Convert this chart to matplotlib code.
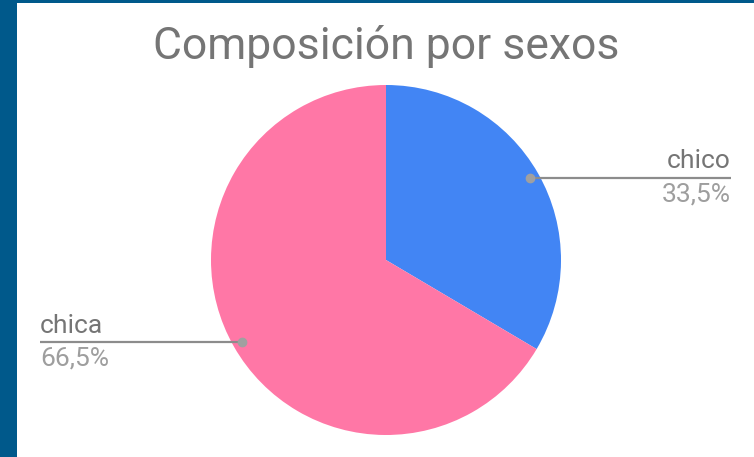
import matplotlib
matplotlib.use("Agg")
import matplotlib.pyplot as plt
import numpy as np

plt.rcParams['font.family'] = ['Roboto', 'DejaVu Sans']

title = "Composición por sexos"
categories = ["chico", "chica"]
values = [33.5, 66.5]
pct_labels = ["33,5%", "66,5%"]
colors = ["#4285f4", "#ff77a6"]

W, H = 754, 457
fig = plt.figure(figsize=(W / 100, H / 100), dpi=100)
fig.patch.set_facecolor("#00598b")
bg = fig.add_axes([17 / W, 0, 1 - 17 / W, (H - 3) / H], zorder=-1)
bg.set_facecolor("white")
bg.set_xticks([]); bg.set_yticks([])
for s in bg.spines.values():
    s.set_visible(False)

cx, cy, R = 386, 260, 175
ax = fig.add_axes([(cx - R) / W, (H - cy - R) / H, 2 * R / W, 2 * R / H])
ax.patch.set_alpha(0)
wedges, _ = ax.pie(values, colors=colors, startangle=90, counterclock=False,
                   radius=1, wedgeprops=dict(linewidth=0))
ax.set_xlim(-1, 1)
ax.set_ylim(-1, 1)
ax.set_aspect("equal")
ax.axis("off")

fig.text(cx / W, 1 - 46 / H, title, ha="center", va="center",
         fontsize=32, color="#757575")

line_col = "#8c8c8c"
ends = {"chico": (731 - cx) / R, "chica": (40 - cx) / R}
for w, cat, pct in zip(wedges, categories, pct_labels):
    ang = np.deg2rad((w.theta1 + w.theta2) / 2)
    px, py = 0.95 * np.cos(ang), 0.95 * np.sin(ang)
    xe = ends[cat]
    ax.plot([px, xe], [py, py], color=line_col, lw=1.6, clip_on=False,
            solid_capstyle="butt", zorder=3)
    ax.plot([px], [py], "o", color="#a0a0a0", ms=6, clip_on=False, zorder=4)
    ha = "right" if xe > 0 else "left"
    ax.text(xe, py + 0.025, cat, ha=ha, va="bottom", fontsize=19,
            color="#757575", clip_on=False)
    ax.text(xe, py - 0.025, pct, ha=ha, va="top", fontsize=19,
            color="#9e9e9e", clip_on=False)

fig.savefig("out.png", dpi=100, facecolor=fig.get_facecolor())
